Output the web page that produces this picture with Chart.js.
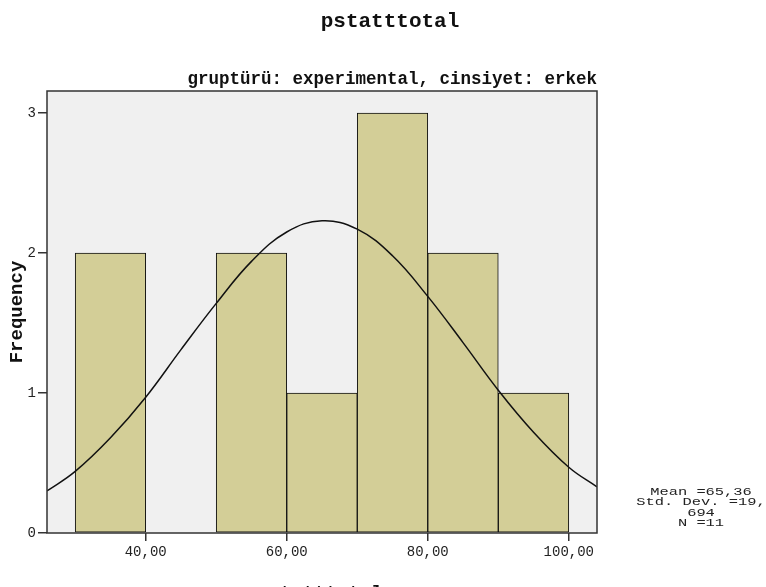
<!DOCTYPE html>
<html>
<head>
<meta charset="utf-8">
<script src="https://cdn.jsdelivr.net/npm/chart.js@4/dist/chart.umd.min.js"></script>
<style>
    html, body { margin: 0; padding: 0; background: #fff; overflow: hidden; }
    canvas { display: block; }
</style>
</head>
<body>
<canvas id="histChart" width="766" height="600"></canvas>
<script>
// histogram bins (centre of each 10-wide bin) and counts
const binCenters = [35, 55, 65, 75, 85, 95];
const binCounts = [2, 2, 1, 3, 2, 1];

// normal curve
const curveX = [26, 30, 35, 40, 45, 50, 55, 60, 65, 70, 75, 80, 85, 90, 95, 100, 104];
const curveY = [0.30, 0.44, 0.68, 0.97, 1.31, 1.64, 1.94, 2.15, 2.23, 2.17, 1.98, 1.69, 1.36, 1.02, 0.72, 0.47, 0.33];

const xTicks = [40, 60, 80, 100];
const yTicks = [0, 1, 2, 3];

const titleText = "pstatttotal";
const panelText = "gruptürü: experimental, cinsiyet: erkek";
const yTitle = "Frequency";
const xTitle = "pstatttotal";
const statsLines = ["Mean =65,36", "Std. Dev. =19,", "694", "N =11"];

const mono = "'Liberation Mono', 'Courier New', monospace";

const decorPlugin = {
    id: "decor",
    beforeDraw(chart) {
        const { ctx, chartArea: a } = chart;
        ctx.save();
        ctx.fillStyle = "#f0f0f0";
        ctx.fillRect(a.left, a.top, a.right - a.left, a.bottom - a.top);
        ctx.restore();
    },
    afterDatasetsDraw(chart) {
        const { ctx, chartArea: a } = chart;
        ctx.save();
        ctx.strokeStyle = "#333";
        ctx.lineWidth = 1.5;
        ctx.strokeRect(a.left, a.top, a.right - a.left, a.bottom - a.top);
        ctx.restore();
    },
    afterDraw(chart) {
        const { ctx, chartArea: a } = chart;
        const midX = (a.left + a.right) / 2;
        ctx.save();
        ctx.fillStyle = "#111";
        ctx.textBaseline = "middle";

        ctx.textAlign = "center";
        ctx.font = "bold 21px " + mono;
        ctx.fillText(titleText, 390, 22);

        ctx.textAlign = "right";
        ctx.font = "bold 17.5px " + mono;
        ctx.fillText(panelText, a.right, 80);

        ctx.textAlign = "center";
        ctx.font = "bold 19px " + mono;
        ctx.fillText(xTitle, midX - 2, 593);

        ctx.save();
        ctx.translate(17, (a.top + a.bottom) / 2);
        ctx.rotate(-Math.PI / 2);
        ctx.font = "bold 19px " + mono;
        ctx.fillText(yTitle, 0, 0);
        ctx.restore();

        // stats box text: narrow-height, wide glyphs
        ctx.font = "11px " + mono;
        ctx.fillStyle = "#222";
        statsLines.forEach((line, i) => {
            ctx.save();
            ctx.translate(701, 492 + i * 10.5);
            ctx.scale(1.4, 1);
            ctx.fillText(line, 0, 0);
            ctx.restore();
        });
        ctx.restore();
    },
};

const canvas = document.getElementById("histChart");
new Chart(canvas, {
    type: "bar",
    data: {
        datasets: [
            {
                type: "line",
                data: curveX.map((x, i) => ({ x: x, y: curveY[i] })),
                borderColor: "#111",
                borderWidth: 1.5,
                pointRadius: 0,
                tension: 0.4,
                fill: false,
                order: 0,
            },
            {
                type: "bar",
                data: binCenters.map((x, i) => ({ x: x, y: binCounts[i] })),
                backgroundColor: "#d3ce97",
                borderColor: "#111",
                borderWidth: 1,
                borderSkipped: false,
                barPercentage: 1,
                categoryPercentage: 1,
                order: 1,
            },
        ],
    },
    options: {
        responsive: false,
        animation: false,
        layout: { padding: { left: 0, top: 91, right: 169, bottom: 0 } },
        plugins: {
            legend: { display: false },
            tooltip: { enabled: false },
        },
        scales: {
            x: {
                type: "linear",
                min: 26,
                max: 104,
                offset: false,
                afterBuildTicks: (axis) => { axis.ticks = xTicks.map((v) => ({ value: v })); },
                afterFit: (axis) => { axis.height = 67; },
                grid: { offset: false, drawOnChartArea: false, drawTicks: true, tickLength: 8, color: "#333", lineWidth: 1.5 },
                border: { display: false },
                ticks: {
                    color: "#222",
                    font: { family: mono, size: 14 },
                    padding: 3,
                    maxRotation: 0,
                    autoSkip: false,
                    callback: (v) => Number(v).toFixed(2).replace(".", ","),
                },
            },
            y: {
                min: 0,
                max: 3.157,
                afterBuildTicks: (axis) => { axis.ticks = yTicks.map((v) => ({ value: v })); },
                afterFit: (axis) => { axis.width = 47; },
                grid: { drawOnChartArea: false, drawTicks: true, tickLength: 9, color: "#333", lineWidth: 1.5 },
                border: { display: false },
                ticks: {
                    color: "#222",
                    font: { family: mono, size: 14 },
                    padding: 2,
                },
            },
        },
    },
    plugins: [decorPlugin],
});
</script>
</body>
</html>
